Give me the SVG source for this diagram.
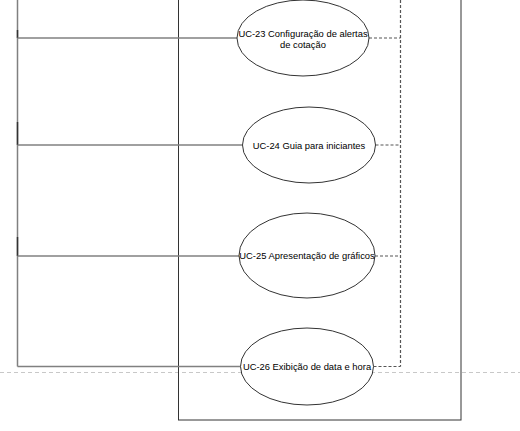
<svg xmlns="http://www.w3.org/2000/svg" width="520" height="431" viewBox="0 0 520 431">
<style>
.bg{fill:#ffffff}
.assoc{fill:none;stroke:#808080;stroke-width:1.5}
.tick{fill:none;stroke:#333333;stroke-width:1.5}
.dep{fill:none;stroke:#555555;stroke-width:1.2;stroke-dasharray:3 2}
.uc{fill:#ffffff;stroke:#333333;stroke-width:1}
.bound{fill:none;stroke:#333333;stroke-width:1}
.page{fill:none;stroke:#c8c8c8;stroke-width:1;stroke-dasharray:4 3}
.lbl{font-family:"Liberation Sans",Arial,sans-serif;font-size:9.4px;fill:#000000;text-anchor:middle}
</style>
<rect class="bg" x="0" y="0" width="520" height="431"/>
<g id="page-break">
<line class="page" x1="0" y1="372.5" x2="520" y2="372.5"/>
</g>
<g id="system-boundary">
<rect class="bound" x="178.5" y="-10" width="282.5" height="430"/>
</g>
<g id="connectors">
<path class="assoc" d="M17.5 0 V366.5"/>
<path class="tick" d="M17.5 30 V38"/>
<path class="tick" d="M17.5 122 V145"/>
<path class="tick" d="M17.5 237 V256"/>
<path class="assoc" d="M17.5 38 H237"/>
<path class="assoc" d="M17.5 145 H242"/>
<path class="assoc" d="M17.5 256 H239"/>
<path class="assoc" d="M17.5 366.5 H241"/>
<path class="dep" d="M400.5 0 V366.5"/>
<path class="dep" d="M369 38 H400.5"/>
<path class="dep" d="M375.5 145 H400.5"/>
<path class="dep" d="M375 256 H400.5"/>
<path class="dep" d="M373.5 366.5 H400.5"/>
</g>
<g id="uc23">
<ellipse class="uc" cx="303" cy="38" rx="66" ry="38"/>
<text class="lbl" x="303" y="36.5">UC-23 Configuração de alertas</text>
<text class="lbl" x="303" y="47.5">de cotação</text>
</g>
<g id="uc24">
<ellipse class="uc" cx="309" cy="145" rx="66.5" ry="38"/>
<text class="lbl" x="309" y="148.5">UC-24 Guia para iniciantes</text>
</g>
<g id="uc25">
<ellipse class="uc" cx="307" cy="255.5" rx="68" ry="42.5"/>
<text class="lbl" x="307" y="259">UC-25 Apresentação de gráficos</text>
</g>
<g id="uc26">
<ellipse class="uc" cx="307" cy="366.5" rx="66.5" ry="38.5"/>
<text class="lbl" x="307" y="370">UC-26 Exibição de data e hora</text>
</g>
</svg>
